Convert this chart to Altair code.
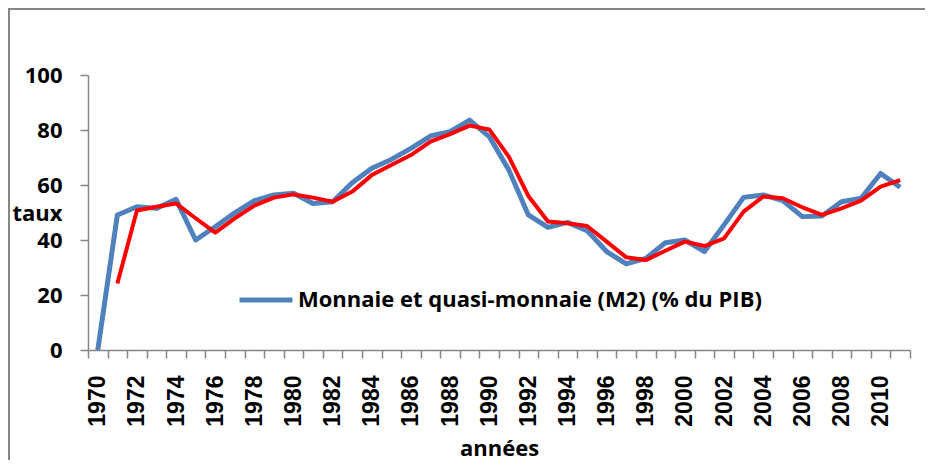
import altair as alt
import pandas as pd

years = list(range(1970, 2012))
m2 = [0, 49.1, 52.1, 51.5, 54.8, 40.0, 44.8, 49.9, 54.3, 56.4, 57.0, 53.3, 53.9, 60.8,
      66.1, 69.3, 73.3, 77.8, 79.4, 83.6, 77.6, 65.5, 49.1, 44.6, 46.4, 43.4, 35.8, 31.3,
      33.3, 39.0, 40.0, 35.8, 45.5, 55.5, 56.4, 54.3, 48.5, 48.7, 53.9, 55.2, 64.2, 59.2]
trend = [None, 24.2, 50.7, 52.1, 53.3, 47.9, 42.7, 47.9, 52.5, 55.4, 56.6, 55.4, 53.9, 57.6,
         63.6, 67.3, 70.9, 75.8, 78.5, 81.6, 80.2, 70.3, 56.0, 46.7, 46.1, 45.1, 39.4, 33.7,
         32.7, 36.1, 39.4, 37.8, 40.6, 50.3, 55.8, 55.2, 51.9, 49.1, 51.5, 54.3, 59.4, 61.8]
series_name = "Monnaie et quasi-monnaie (M2) (% du PIB)"
y_ticks = [0, 20, 40, 60, 80, 100]

df = pd.DataFrame({"year": years, "m2": m2, "trend": trend})

FONT = "Open Sans"

x_enc = alt.X(
    "year:O",
    scale=alt.Scale(paddingInner=0, paddingOuter=0),
    axis=alt.Axis(
        title="années",
        tickBand="extent",
        labelAngle=-90,
        labelExpr="datum.value % 2 == 0 ? datum.label : ''",
        labelFont="Liberation Sans",
        labelFontSize=23,
        labelFontWeight="bold",
        labelPadding=17,
        tickSize=8,
        titleFont=FONT,
        titleFontSize=22,
        titleFontWeight="bold",
        titleBaseline="alphabetic",
        titleY=105,
    ),
)

y_scale = alt.Scale(domain=[0, 100], nice=False)

blue = alt.Chart(df).transform_calculate(series=f"'{series_name}'").mark_line(
    strokeWidth=5, strokeJoin="round"
).encode(
    x=x_enc,
    y=alt.Y(
        "m2:Q",
        scale=y_scale,
        axis=alt.Axis(
            values=y_ticks,
            title="taux",
            titleAngle=0,
            titleAlign="right",
            titleBaseline="middle",
            titleX=-26,
            titleY=138,
            titleFont=FONT,
            titleFontSize=22,
            titleFontWeight="bold",
            labelFont=FONT,
            labelFontSize=22,
            labelFontWeight="bold",
            labelPadding=18,
            tickSize=8,
            grid=False,
        ),
    ),
    color=alt.Color(
        "series:N",
        scale=alt.Scale(domain=[series_name], range=["#4F81BD"]),
        legend=alt.Legend(
            title=None,
            orient="none",
            legendX=149,
            legendY=196,
            symbolType="stroke",
            symbolSize=2809,
            symbolStrokeWidth=5,
            labelFont=FONT,
            labelFontSize=22,
            labelFontWeight="bold",
            labelColor="black",
            labelOffset=3,
            labelLimit=0,
            padding=0,
        ),
    ),
)

red = alt.Chart(df).mark_line(strokeWidth=4, color="#FF0000", strokeJoin="round").encode(
    x="year:O",
    y=alt.Y("trend:Q", scale=y_scale),
)

frame = alt.Chart(pd.DataFrame({"k": [0]})).mark_rect(
    fillOpacity=0, stroke="#868686", strokeWidth=2, clip=False
).encode(
    x=alt.value(-79), x2=alt.value(1200), y=alt.value(-66), y2=alt.value(1200)
)

chart = alt.layer(frame, blue, red).properties(
    width=822,
    height=275,
    autosize=alt.AutoSizeParams(type="none"),
    padding={"left": 80, "top": 67, "right": 15, "bottom": 110},
).configure_view(stroke=None).configure_axis(
    domainColor="#868686",
    tickColor="#868686",
    domainWidth=1.5,
    tickWidth=1.5,
    labelColor="black",
    titleColor="black",
)

chart.save("out.html", embed_options={"renderer": "svg", "actions": False})
